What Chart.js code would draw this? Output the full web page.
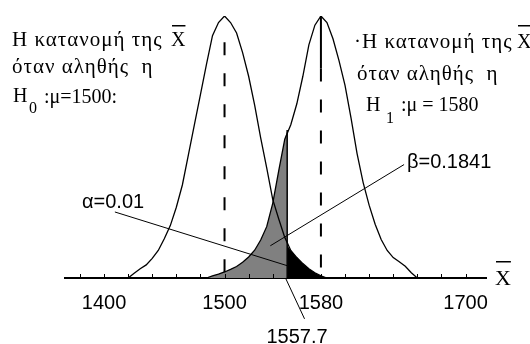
<!DOCTYPE html>
<html>
<head>
<meta charset="utf-8">
<script src="https://cdn.jsdelivr.net/npm/chart.js@4/dist/chart.umd.min.js"></script>
<style>
  html, body { margin: 0; padding: 0; background: #fff; }
  #wrap { width: 530px; height: 344px; }
</style>
</head>
<body>
<div id="wrap"><canvas id="chart" width="530" height="344"></canvas></div>
<script>
// sampling distribution of the mean under H0 (mu = 1500), heights relative to the peak
const h0X = [1420, 1425, 1430, 1435, 1440, 1445, 1450, 1455, 1460, 1465, 1470, 1475, 1480, 1485, 1490, 1495, 1500,
             1505, 1510, 1515, 1520, 1525, 1530, 1535, 1540, 1545, 1550, 1555, 1560, 1565, 1570, 1575, 1580, 1585]
const h0Y = [0, 0.018, 0.035, 0.05, 0.075, 0.105, 0.15, 0.2, 0.27, 0.355, 0.47, 0.585, 0.7, 0.815, 0.925, 0.975, 1,
             0.975, 0.935, 0.86, 0.77, 0.66, 0.535, 0.42, 0.3, 0.225, 0.155, 0.105, 0.078, 0.055, 0.035, 0.02, 0.008, 0]

// same under H1 (mu = 1580)
const h1X = [1485, 1490, 1495, 1500, 1505, 1510, 1515, 1520, 1525, 1530, 1535, 1540, 1545, 1550, 1555, 1560, 1565, 1570, 1575, 1580,
             1585, 1590, 1595, 1600, 1605, 1610, 1615, 1620, 1625, 1630, 1635, 1640, 1645, 1650, 1655, 1660]
const h1Y = [0, 0.008, 0.015, 0.023, 0.033, 0.044, 0.06, 0.08, 0.106, 0.145, 0.196, 0.285, 0.41, 0.53, 0.585, 0.665, 0.77, 0.89, 0.965, 1,
             0.975, 0.913, 0.83, 0.735, 0.61, 0.475, 0.365, 0.278, 0.205, 0.147, 0.105, 0.078, 0.062, 0.045, 0.02, 0]

// critical value line as drawn in the picture
const cutX = 1552
const cutH0 = 0.125
const cutH1 = 0.565
const cutLabel = '1557.7'

// axis ticks
const tickValues = [1380, 1400, 1420, 1440, 1460, 1480, 1500, 1520, 1540, 1560, 1580, 1600, 1620, 1640, 1660, 1680, 1700]
const labeledTicks = [1400, 1500, 1580, 1700]

// pointer lines for the annotations
const alphaLine = [[1409, 0.252], [1552, 0.047]]
const betaLine = [[1649, 0.433], [1538, 0.123]]
const leaderLine = [[1550.6, 0], [1566.4, -0.156]]

const pts = (xs, ys) => xs.map((x, i) => ({ x: x, y: ys[i] }))
const pairs = arr => arr.map(p => ({ x: p[0], y: p[1] }))

const h0Pts = pts(h0X, h0Y)
const h1Pts = pts(h1X, h1Y)
const betaArea = h1Pts.filter(p => p.x < cutX).concat([{ x: cutX, y: cutH1 }])
const alphaArea = [{ x: cutX, y: cutH0 }].concat(h0Pts.filter(p => p.x > cutX))

const line = (data, extra) => Object.assign({
  data: data,
  showLine: true,
  pointRadius: 0,
  borderColor: '#000',
  borderWidth: 1,
  fill: false,
  tension: 0
}, extra)

// draws an X with a bar over it
function xbar(ctx, x, y, size, barY) {
  ctx.font = size + 'px "Liberation Serif"'
  ctx.fillText('X', x, y)
  const w = ctx.measureText('X').width
  ctx.fillRect(x + 1, barY, w - 1, 1.5)
}

const decorations = {
  id: 'decorations',
  afterDraw(chart) {
    const { ctx, chartArea } = chart
    const xs = chart.scales.x
    ctx.save()

    // small tick marks pointing up from the axis
    ctx.strokeStyle = '#000'
    ctx.lineWidth = 1
    xs.ticks.forEach(t => {
      const px = Math.round(xs.getPixelForValue(t.value)) + 0.5
      ctx.beginPath()
      ctx.moveTo(px, chartArea.bottom)
      ctx.lineTo(px, chartArea.bottom - 4)
      ctx.stroke()
    })

    ctx.fillStyle = '#000'
    ctx.textAlign = 'left'
    ctx.textBaseline = 'alphabetic'

    // left text block
    ctx.letterSpacing = '1px'
    ctx.font = '21px "Liberation Serif"'
    ctx.fillText('Η κατανομή της', 12, 46)
    ctx.fillText('όταν αληθής  η', 12, 73)
    ctx.letterSpacing = '0px'
    xbar(ctx, 171, 46, 20, 25)
    ctx.font = '20px "Liberation Serif"'
    ctx.fillText('H', 13, 102)
    ctx.font = '16px "Liberation Serif"'
    ctx.fillText('0', 29, 113)
    ctx.font = '20px "Liberation Serif"'
    ctx.fillText(':μ=1500:', 44, 103)

    // right text block
    ctx.letterSpacing = '1px'
    ctx.font = '21px "Liberation Serif"'
    ctx.fillText('·Η κατανομή της', 354, 48)
    ctx.fillText('όταν αληθής  η', 357, 80)
    ctx.letterSpacing = '0px'
    xbar(ctx, 517, 48, 20, 25)
    ctx.font = '20px "Liberation Serif"'
    ctx.fillText('H', 366, 111)
    ctx.font = '16px "Liberation Serif"'
    ctx.fillText('1', 386, 123)
    ctx.font = '20px "Liberation Serif"'
    ctx.fillText(':μ = 1580', 401, 111)

    // annotations
    ctx.font = '20px "Liberation Sans"'
    ctx.fillText('α=0.01', 82, 208)
    ctx.fillText('β=0.1841', 407, 168)
    ctx.textAlign = 'center'
    ctx.fillText(cutLabel, 297, 343)

    // axis name
    ctx.textAlign = 'left'
    xbar(ctx, 495, 285, 22, 261)

    ctx.restore()
  }
}

const chart = new Chart(document.getElementById('chart'), {
  type: 'scatter',
  data: {
    datasets: [
      line(pairs(alphaLine), { order: 1 }),
      line(pairs(betaLine), { order: 1 }),
      line(pairs(leaderLine), { order: 1, clip: false }),
      line(h0Pts, { order: 2, borderWidth: 1.3 }),
      line(h1Pts, { order: 2, borderWidth: 1.3 }),
      line([{ x: 1500, y: 0.9 }, { x: 1500, y: 0 }], { order: 3, borderWidth: 2, borderDash: [13, 18] }),
      line([{ x: 1580, y: 1 }, { x: 1580, y: 0.8 }], { order: 3, borderWidth: 2 }),
      line([{ x: 1580, y: 0.8 }, { x: 1580, y: 0 }], { order: 3, borderWidth: 2, borderDash: [13, 18] }),
      line([{ x: cutX, y: 0 }, { x: cutX, y: cutH1 }], { order: 3, borderWidth: 1.5 }),
      line(alphaArea, { order: 8, borderWidth: 0, backgroundColor: '#000', fill: 'origin' }),
      line(betaArea, { order: 9, borderWidth: 0, backgroundColor: '#808080', fill: 'origin' })
    ]
  },
  options: {
    responsive: false,
    animation: false,
    layout: { padding: { left: 65, right: 44, top: 16, bottom: 24 } },
    plugins: {
      legend: { display: false },
      tooltip: { enabled: false }
    },
    scales: {
      x: {
        type: 'linear',
        min: 1367.6,
        max: 1717,
        grid: { display: false },
        border: { display: true, color: '#000', width: 2 },
        afterBuildTicks: scale => {
          scale.ticks = tickValues.map(v => ({ value: v }))
        },
        ticks: {
          autoSkip: false,
          maxRotation: 0,
          padding: 5,
          color: '#000',
          font: { family: 'Liberation Sans', size: 20 },
          callback: v => labeledTicks.includes(v) ? String(v) : ''
        }
      },
      y: {
        display: false,
        min: 0,
        max: 1
      }
    }
  },
  plugins: [decorations]
})
</script>
</body>
</html>
